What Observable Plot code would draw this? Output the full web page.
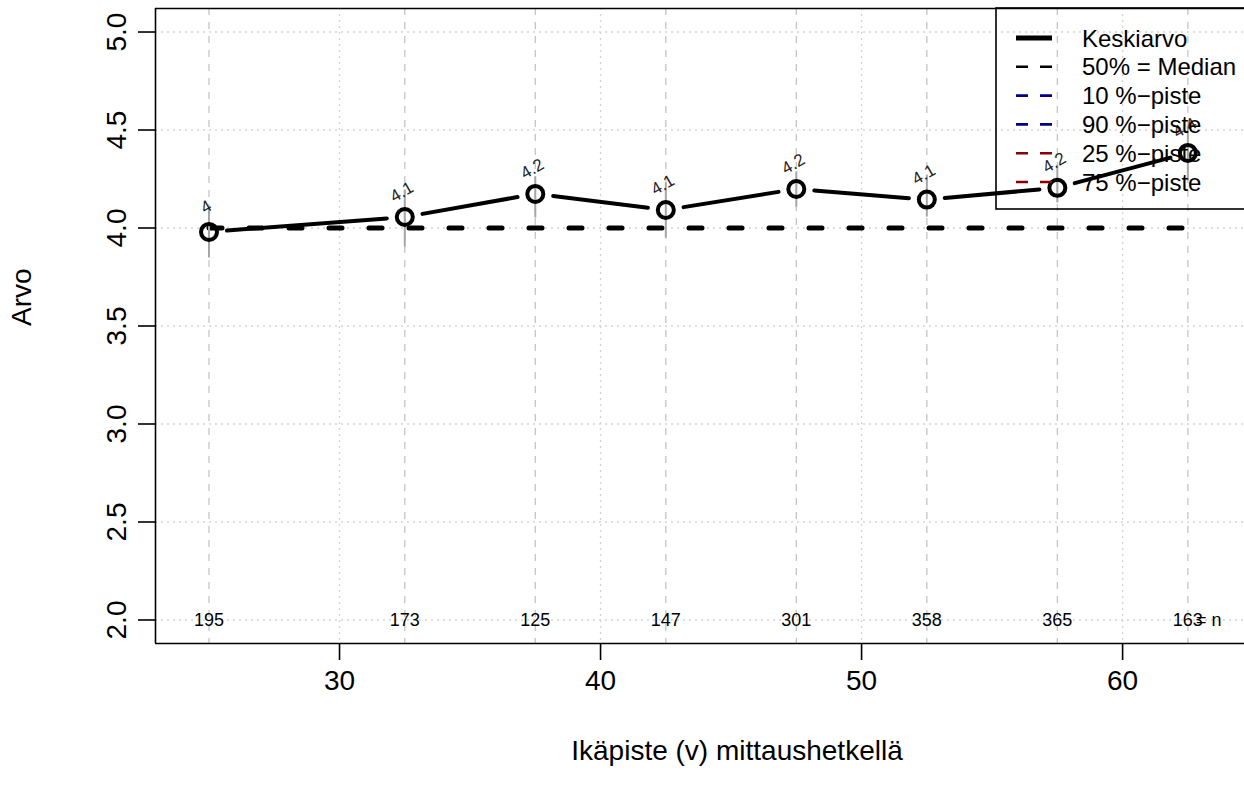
<!DOCTYPE html>
<html>
<head>
<meta charset="utf-8">
<script src="https://cdn.jsdelivr.net/npm/d3@7"></script>
<script src="https://cdn.jsdelivr.net/npm/@observablehq/plot@0.6"></script>
<style>
  html, body { margin: 0; padding: 0; background: #fff; overflow: hidden; }
  #chart { position: relative; width: 1244px; height: 795px; overflow: hidden; }
</style>
</head>
<body>
<div id="chart"></div>
<script>
// ---- data ----
const ages    = [25, 32.5, 37.5, 42.5, 47.5, 52.5, 57.5, 62.5];
const means   = [3.98, 4.056, 4.174, 4.092, 4.199, 4.145, 4.205, 4.383];
const medians = [4, 4, 4, 4, 4, 4, 4, 4];
const ciLow   = [3.847, 3.903, 4.051, 3.949, 4.107, 4.056, 4.128, 4.24];
const ciHigh  = [4.102, 4.194, 4.260, 4.230, 4.286, 4.270, 4.321, 4.52];
const meanLabels = ["4", "4.1", "4.2", "4.1", "4.2", "4.1", "4.2", "4.4"];
const counts  = [195, 173, 125, 147, 301, 358, 365, 163];
const countRowY = 2.0;
const countTagX = 63.3;
const countTag = "= n";

const xTicks = [30, 40, 50, 60];
const yTicks = [2.0, 2.5, 3.0, 3.5, 4.0, 4.5, 5.0];
const xDomain = [22.95, 64.67];
const yDomain = [1.88, 5.12];

const legendLabels = ["Keskiarvo", "50% = Median", "10 %\u2212piste", "90 %\u2212piste", "25 %\u2212piste", "75 %\u2212piste"];
const legendColors = ["#000000", "#000000", "#00008B", "#00008B", "#8B0000", "#8B0000"];
const legendSolid  = [true, false, false, false, false, false];

const xTitle = "Ik\u00e4piste (v) mittaushetkell\u00e4";
const yTitle = "Arvo";

// ---- build tables ----
const rows = ages.map((a, i) => ({
  age: a, mean: means[i], median: medians[i], lo: ciLow[i], hi: ciHigh[i],
  lab: meanLabels[i], n: String(counts[i])
}));
const segs = rows.slice(1).map((r, i) => ({
  x1: rows[i].age, y1: rows[i].mean, x2: r.age, y2: r.mean
}));

const font = "'Liberation Sans', Arial, Helvetica, sans-serif";

const plot = Plot.plot({
  width: 1244,
  height: 795,
  marginLeft: 155,
  marginRight: 0,
  marginTop: 8,
  marginBottom: 152,
  style: { fontFamily: font, background: "white", color: "black" },
  x: { domain: xDomain, axis: null },
  y: { domain: yDomain, axis: null },
  marks: [
    // grids
    Plot.gridY(yTicks, { stroke: "#D3D3D3", strokeOpacity: 1, strokeWidth: 1.3, strokeDasharray: "2 4" }),
    Plot.gridX(xTicks, { stroke: "#D3D3D3", strokeOpacity: 1, strokeWidth: 1.3, strokeDasharray: "2 4" }),
    Plot.ruleX(ages, { stroke: "#C4C4C4", strokeWidth: 1.3, strokeDasharray: "7 7" }),
    // box (left, top, bottom)
    Plot.ruleX([xDomain[0]], { stroke: "black", strokeWidth: 1.6 }),
    Plot.ruleY(yDomain, { stroke: "black", strokeWidth: 1.6 }),
    // axes ticks
    Plot.axisX(xTicks, { anchor: "bottom", tickSize: 17, tickFormat: () => "", label: null, strokeWidth: 1.6 }),
    Plot.axisY(yTicks, { anchor: "left", tickSize: 17, tickFormat: () => "", label: null, strokeWidth: 1.6 }),
    // tick labels
    Plot.text(xTicks, { x: d => d, text: d => String(d), frameAnchor: "bottom", dy: 38, lineAnchor: "middle", fontSize: 28 }),
    Plot.text(yTicks, { y: d => d, text: d => d.toFixed(1), frameAnchor: "left", dx: -38, rotate: -90, lineAnchor: "middle", textAnchor: "middle", fontSize: 28 }),
    // axis titles
    Plot.text([xTitle], { frameAnchor: "bottom", dx: 37, dy: 108, lineAnchor: "middle", fontSize: 28 }),
    Plot.text([yTitle], { frameAnchor: "left", dx: -133, rotate: -90, lineAnchor: "middle", fontSize: 28 }),
    // median (dashed)
    Plot.line(rows, { x: "age", y: "median", stroke: "black", strokeWidth: 5, strokeDasharray: "13 27", strokeLinecap: "round" }),
    // interval whiskers
    Plot.ruleX(rows, { x: "age", y1: "lo", y2: "hi", stroke: "#A6A6A6", strokeWidth: 2 }),
    // mean line with gaps (type = "b")
    Plot.arrow(segs, { x1: "x1", y1: "y1", x2: "x2", y2: "y2", headLength: 0, insetStart: 18, insetEnd: 18, stroke: "black", strokeWidth: 4 }),
    Plot.dot(rows, { x: "age", y: "mean", r: 8, stroke: "black", strokeWidth: 4, fill: "none" }),
    // value labels
    Plot.text(rows, { x: "age", y: "mean", text: "lab", dx: -3, dy: -25, rotate: -30, fontSize: 17, fill: "#222" }),
    // counts
    Plot.text(rows, { x: "age", y: () => countRowY, text: "n", fontSize: 18, lineAnchor: "middle" }),
    Plot.text([countTag], { x: () => countTagX, y: () => countRowY, text: d => d, fontSize: 18, lineAnchor: "middle" })
  ]
});

document.getElementById("chart").appendChild(plot);

// ---- legend (transparent box, top right, clipped at the right edge) ----
const svg = d3.select(plot);
const lg = svg.append("g").attr("font-family", font).attr("text-anchor", "start");
lg.append("rect")
  .attr("x", 996).attr("y", 8).attr("width", 400).attr("height", 201)
  .attr("fill", "none").attr("stroke", "black").attr("stroke-width", 1.6);
legendLabels.forEach((lab, i) => {
  const y = 38 + i * 28.8;
  lg.append("line")
    .attr("x1", 1016).attr("x2", 1052).attr("y1", y).attr("y2", y)
    .attr("stroke", legendColors[i])
    .attr("stroke-width", legendSolid[i] ? 5 : 2.6)
    .attr("stroke-dasharray", legendSolid[i] ? null : "12 12");
  lg.append("text")
    .attr("x", 1082).attr("y", y).attr("dy", "0.36em")
    .attr("text-anchor", "start")
    .attr("font-size", 24).attr("fill", "black")
    .text(lab);
});
</script>
</body>
</html>
